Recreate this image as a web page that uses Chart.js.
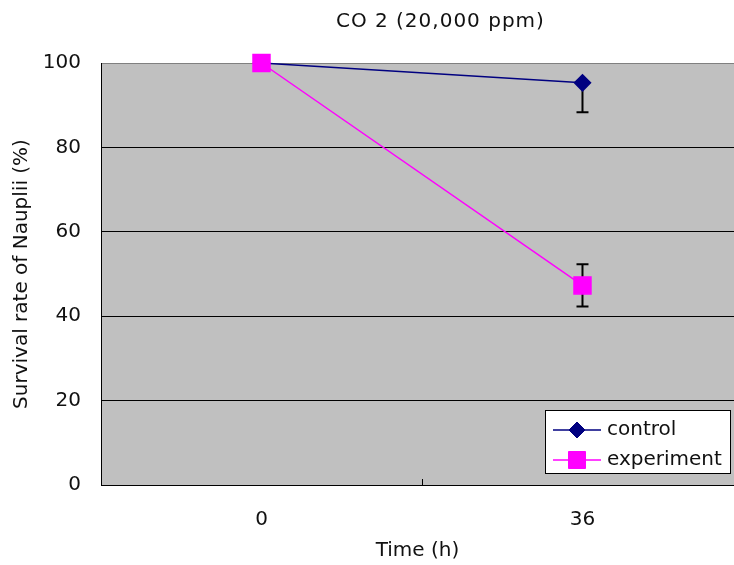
<!DOCTYPE html>
<html>
<head>
<meta charset="utf-8">
<script src="https://cdn.jsdelivr.net/npm/chart.js@4.4.0/dist/chart.umd.min.js"></script>
<style>
  html, body { margin: 0; padding: 0; background: #fff; }
  #wrap { width: 734px; height: 565px; }
</style>
</head>
<body>
<div id="wrap"><canvas id="chart"></canvas></div>
<script>
const timeLabels = ['0', '36'];
const controlValues = [100, 95.3];
const controlErrPlus = [0, 0];
const controlErrMinus = [0, 7];
const experimentValues = [100, 47.3];
const experimentErrPlus = [0, 5];
const experimentErrMinus = [0, 5];
const titleText = 'CO 2 (20,000 ppm)';

const FONT = "'DejaVu Sans', sans-serif";
const TEXT = '#111';

const toPoints = (vals) => vals.map((v, i) => ({ x: i, y: v }));

// grey plot area, error bars, title, legend box
const plotDecor = {
    id: 'plotDecor',
    beforeDraw(chart) {
        const { ctx, chartArea: a } = chart;
        ctx.save();
        ctx.fillStyle = '#c0c0c0';
        ctx.fillRect(a.left, a.top, a.right - a.left, a.bottom - a.top);
        ctx.restore();
    },
    beforeDatasetsDraw(chart) {
        const { ctx, chartArea: a, scales } = chart;
        ctx.save();
        ctx.beginPath();
        ctx.rect(a.left, a.top, a.right - a.left, a.bottom - a.top);
        ctx.clip();
        ctx.strokeStyle = '#000';
        ctx.lineWidth = 2;
        chart.data.datasets.forEach((ds) => {
            const plus = ds.errPlus || [];
            const minus = ds.errMinus || [];
            ds.data.forEach((pt, i) => {
                const x = scales.x.getPixelForValue(i);
                const yMid = scales.y.getPixelForValue(pt.y);
                [[plus[i], 1], [minus[i], -1]].forEach(([err, dir]) => {
                    if (!err) return;
                    const yEnd = scales.y.getPixelForValue(pt.y + dir * err);
                    ctx.beginPath();
                    ctx.moveTo(x, yMid);
                    ctx.lineTo(x, yEnd);
                    ctx.moveTo(x - 6, yEnd);
                    ctx.lineTo(x + 6, yEnd);
                    ctx.stroke();
                });
            });
        });
        ctx.restore();
    },
    afterDraw(chart) {
        const { ctx, chartArea: a, scales } = chart;
        ctx.save();

        // small tick between the two categories
        const mid = Math.round(scales.x.getPixelForValue(0.5)) + 0.5;
        ctx.strokeStyle = '#000';
        ctx.lineWidth = 1;
        ctx.beginPath();
        ctx.moveTo(mid, a.bottom);
        ctx.lineTo(mid, a.bottom - 6);
        ctx.stroke();

        // title
        ctx.fillStyle = TEXT;
        ctx.font = '20px ' + FONT;
        ctx.letterSpacing = '1px';
        ctx.textAlign = 'center';
        ctx.textBaseline = 'middle';
        ctx.fillText(titleText, chart.width * 0.6, 22);
        ctx.letterSpacing = '0px';

        // legend
        const w = 185, h = 63;
        const bx = a.right - 4 - w;
        const by = a.bottom - 12 - h;
        ctx.fillStyle = '#fff';
        ctx.fillRect(bx, by, w, h);
        ctx.strokeStyle = '#000';
        ctx.strokeRect(bx + 0.5, by + 0.5, w, h);
        chart.data.datasets.forEach((ds, i) => {
            const y = by + 20 + i * 30;
            ctx.strokeStyle = ds.borderColor;
            ctx.lineWidth = ds.borderWidth;
            ctx.beginPath();
            ctx.moveTo(bx + 8, y);
            ctx.lineTo(bx + 56, y);
            ctx.stroke();
            ctx.fillStyle = ds.pointBackgroundColor;
            ctx.strokeStyle = ds.pointBorderColor;
            ctx.lineWidth = 1;
            Chart.helpers.drawPoint(ctx, {
                pointStyle: ds.pointStyle,
                radius: ds.pointRadius,
                rotation: 0,
                borderWidth: 1
            }, bx + 32, y);
            ctx.fillStyle = TEXT;
            ctx.font = '20px ' + FONT;
            ctx.textAlign = 'left';
            ctx.textBaseline = 'middle';
            ctx.fillText(ds.label, bx + 62, y);
        });
        ctx.restore();
    }
};

new Chart(document.getElementById('chart'), {
    type: 'line',
    data: {
        datasets: [
            {
                label: 'control',
                data: toPoints(controlValues),
                errPlus: controlErrPlus,
                errMinus: controlErrMinus,
                borderColor: '#000080',
                borderWidth: 1.5,
                pointStyle: 'rectRot',
                pointRadius: 8,
                pointBackgroundColor: '#000080',
                pointBorderColor: '#000080',
                clip: false,
                order: 1
            },
            {
                label: 'experiment',
                data: toPoints(experimentValues),
                errPlus: experimentErrPlus,
                errMinus: experimentErrMinus,
                borderColor: '#ff00ff',
                borderWidth: 1.5,
                pointStyle: 'rect',
                pointRadius: 12,
                pointBackgroundColor: '#ff00ff',
                pointBorderColor: '#ff00ff',
                clip: false,
                order: 0
            }
        ]
    },
    options: {
        responsive: true,
        maintainAspectRatio: false,
        animation: false,
        layout: {
            autoPadding: false,
            padding: { top: 63, right: 0, bottom: 0, left: 0 }
        },
        scales: {
            x: {
                type: 'linear',
                min: -0.5,
                max: 1.472,
                afterBuildTicks: (axis) => {
                    axis.ticks = timeLabels.map((t, i) => ({ value: i }));
                },
                afterFit: (axis) => {
                    axis.height = 80;
                    axis.paddingLeft = 0;
                    axis.paddingRight = 0;
                },
                grid: { display: false, drawTicks: false },
                border: { display: true, color: '#000', width: 1 },
                ticks: {
                    padding: 23,
                    color: TEXT,
                    font: { family: FONT, size: 20 },
                    callback: (v) => timeLabels[v] ?? ''
                },
                title: {
                    display: true,
                    text: 'Time (h)',
                    color: TEXT,
                    font: { family: FONT, size: 20 },
                    padding: { top: 8, bottom: 2 }
                }
            },
            y: {
                min: 0,
                max: 100,
                afterFit: (axis) => {
                    axis.width = 101;
                },
                ticks: {
                    stepSize: 20,
                    padding: 20,
                    color: TEXT,
                    font: { family: FONT, size: 20 }
                },
                grid: {
                    drawTicks: false,
                    color: (c) => (c.tick && c.tick.value === 100 ? '#808080' : '#000'),
                    lineWidth: 1
                },
                border: { color: '#000', width: 1 },
                title: {
                    display: true,
                    text: 'Survival rate of Nauplii (%)',
                    color: TEXT,
                    font: { family: FONT, size: 20 },
                    padding: { top: 10, bottom: 10 }
                }
            }
        },
        plugins: {
            legend: { display: false },
            tooltip: { enabled: false }
        }
    },
    plugins: [plotDecor]
});
</script>
</body>
</html>
